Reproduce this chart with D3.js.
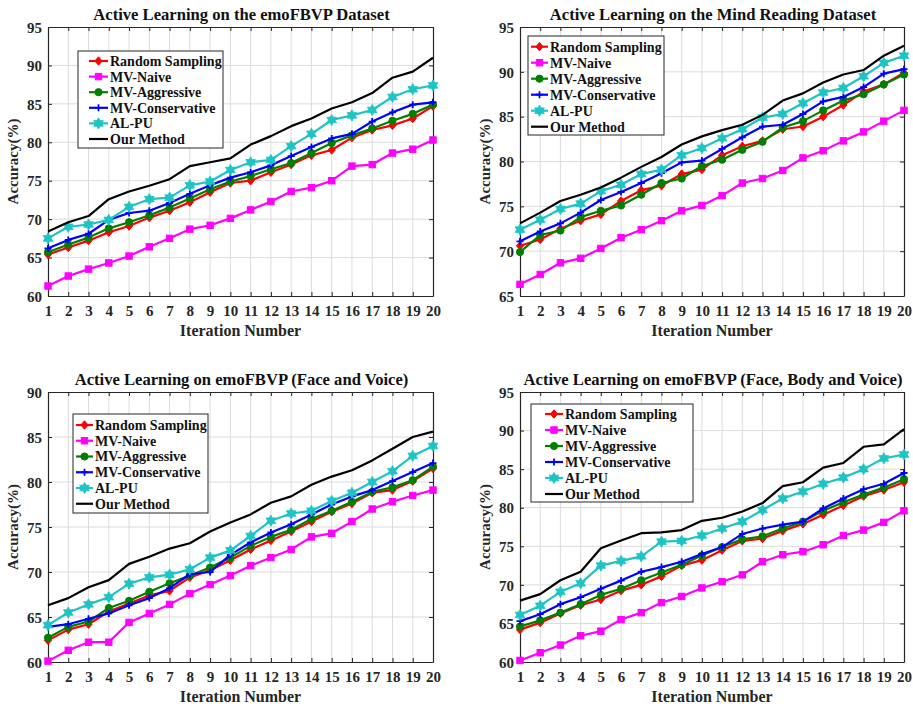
<!DOCTYPE html>
<html>
<head>
<meta charset="utf-8">
<script src="https://cdn.jsdelivr.net/npm/d3@7/dist/d3.min.js"></script>
<style>
  html, body { margin: 0; padding: 0; background: #fff; }
  svg { display: block; font-family: "Liberation Serif", "Times New Roman", serif; font-weight: bold; }
</style>
</head>
<body>
<svg id="chart" width="913" height="704"></svg>
<script>
// Iteration index shared by all four panels
const iterations = d3.range(1, 21);

const seriesNames = ["Random Sampling", "MV-Naive", "MV-Aggressive", "MV-Conservative", "AL-PU", "Our Method"];

// emoFBVP dataset
const fbvpRandom = [65.4, 66.3, 67.2, 68.3, 69.1, 70.2, 71.1, 72.2, 73.5, 74.7, 75.0, 76.1, 77.1, 78.3, 79.0, 80.6, 81.6, 82.2, 83.1, 84.7];
const fbvpNaive = [61.3, 62.6, 63.5, 64.3, 65.2, 66.4, 67.5, 68.7, 69.2, 70.1, 71.2, 72.3, 73.6, 74.1, 75.0, 76.9, 77.1, 78.6, 79.1, 80.3];
const fbvpAggressive = [65.7, 66.7, 67.6, 68.8, 69.6, 70.5, 71.5, 72.7, 73.9, 74.9, 75.6, 76.5, 77.3, 78.6, 79.9, 80.9, 81.8, 82.8, 83.7, 84.9];
const fbvpConservative = [66.2, 67.3, 68.1, 69.9, 70.8, 71.1, 72.1, 73.3, 74.4, 75.4, 76.1, 77.0, 78.2, 79.4, 80.5, 81.1, 82.7, 83.9, 84.9, 85.2];
const fbvpALPU = [67.5, 69.0, 69.3, 69.9, 71.6, 72.6, 72.8, 74.4, 74.9, 76.4, 77.4, 77.7, 79.5, 81.1, 82.9, 83.5, 84.2, 85.9, 86.9, 87.4];
const fbvpOurs = [68.4, 69.6, 70.4, 72.6, 73.6, 74.35, 75.2, 76.9, 77.4, 77.9, 79.7, 80.8, 82.1, 83.1, 84.4, 85.2, 86.4, 88.4, 89.2, 91.0];

// Mind Reading dataset
const mindRandom = [70.6, 71.3, 72.5, 73.4, 74.1, 75.6, 76.8, 77.3, 78.6, 79.1, 80.7, 81.7, 82.3, 83.6, 83.9, 85.0, 86.3, 87.8, 88.6, 89.9];
const mindNaive = [66.3, 67.4, 68.7, 69.2, 70.3, 71.5, 72.4, 73.4, 74.5, 75.1, 76.2, 77.6, 78.1, 79.0, 80.4, 81.2, 82.3, 83.3, 84.5, 85.7];
const mindAggressive = [69.9, 71.8, 72.3, 73.8, 74.5, 75.1, 76.3, 77.6, 78.1, 79.5, 80.2, 81.3, 82.2, 83.8, 84.5, 85.7, 86.8, 87.5, 88.6, 89.7];
const mindConservative = [71.1, 72.2, 73.1, 74.3, 75.7, 76.6, 77.6, 78.7, 79.9, 80.1, 81.4, 82.7, 83.9, 84.1, 85.3, 86.7, 87.2, 88.3, 89.8, 90.3];
const mindALPU = [72.4, 73.5, 74.7, 75.3, 76.7, 77.4, 78.6, 79.1, 80.7, 81.5, 82.6, 83.6, 84.9, 85.3, 86.5, 87.7, 88.2, 89.5, 91.0, 91.8];
const mindOurs = [73.1, 74.3, 75.6, 76.3, 77.1, 78.2, 79.4, 80.5, 81.9, 82.8, 83.5, 84.1, 85.2, 86.8, 87.6, 88.8, 89.7, 90.2, 91.8, 92.9];

// emoFBVP, face and voice
const fvRandom = [62.4, 63.6, 64.2, 65.6, 66.5, 67.4, 67.9, 69.4, 70.2, 71.3, 72.5, 73.5, 74.5, 75.6, 76.7, 77.6, 78.8, 79.1, 80.1, 81.5];
const fvNaive = [60.1, 61.3, 62.2, 62.2, 64.4, 65.4, 66.4, 67.6, 68.6, 69.6, 70.7, 71.6, 72.5, 73.9, 74.3, 75.6, 77.0, 77.8, 78.5, 79.1];
const fvAggressive = [62.7, 63.9, 64.5, 66.0, 66.8, 67.8, 68.75, 69.6, 70.5, 71.6, 72.9, 73.9, 74.7, 75.9, 76.8, 77.8, 78.9, 79.4, 80.2, 81.7];
const fvConservative = [63.9, 64.2, 64.8, 65.4, 66.3, 67.1, 68.2, 69.75, 70.0, 71.9, 73.3, 74.4, 75.3, 76.4, 77.5, 78.4, 79.1, 80.1, 81.1, 82.1];
const fvALPU = [64.1, 65.5, 66.4, 67.2, 68.7, 69.4, 69.7, 70.3, 71.6, 72.4, 74.0, 75.7, 76.5, 76.8, 77.9, 78.8, 80.0, 81.2, 82.9, 84.0];
const fvOurs = [66.3, 67.1, 68.3, 69.1, 70.9, 71.7, 72.6, 73.2, 74.5, 75.5, 76.4, 77.7, 78.4, 79.7, 80.6, 81.3, 82.4, 83.7, 85.0, 85.6];

// emoFBVP, face, body and voice
const fbvRandom = [64.2, 65.1, 66.3, 67.35, 68.1, 69.25, 70.0, 71.1, 72.5, 73.2, 74.5, 75.7, 76.0, 77.0, 77.9, 79.1, 80.3, 81.5, 82.3, 83.3];
const fbvNaive = [60.2, 61.2, 62.2, 63.4, 64.0, 65.5, 66.4, 67.7, 68.5, 69.6, 70.4, 71.3, 73.0, 73.9, 74.3, 75.2, 76.4, 77.1, 78.1, 79.6];
const fbvAggressive = [64.6, 65.4, 66.4, 67.5, 68.7, 69.5, 70.6, 71.6, 72.6, 73.8, 74.9, 75.9, 76.3, 77.3, 78.2, 79.6, 80.7, 81.7, 82.6, 83.7];
const fbvConservative = [65.3, 66.2, 67.5, 68.4, 69.5, 70.55, 71.7, 72.3, 73.0, 74.0, 74.9, 76.6, 77.3, 77.8, 78.2, 79.9, 81.2, 82.4, 83.1, 84.5];
const fbvALPU = [66.1, 67.3, 69.1, 70.2, 72.5, 73.1, 73.7, 75.6, 75.7, 76.4, 77.3, 78.2, 79.7, 81.2, 82.1, 83.1, 83.9, 85.0, 86.4, 86.9];
const fbvOurs = [67.95, 68.8, 70.6, 71.7, 74.75, 75.75, 76.7, 76.8, 77.1, 78.3, 78.7, 79.5, 80.6, 82.8, 83.3, 85.2, 85.8, 87.9, 88.2, 90.2];

// Y tick labels per panel
const yTicksFbvp = [60, 65, 70, 75, 80, 85, 90, 95];
const yTicksMind = [65, 70, 75, 80, 85, 90, 95];
const yTicksFv = [60, 65, 70, 75, 80, 85, 90];
const yTicksFbv = [60, 65, 70, 75, 80, 85, 90, 95];

// Line style per series: colour and marker
const styles = [
  { color: "#ff0000", marker: "diamond" },
  { color: "#ff00ff", marker: "square" },
  { color: "#008000", marker: "circle" },
  { color: "#0000ff", marker: "plus" },
  { color: "#1ec4c4", marker: "hexagram" },
  { color: "#000000", marker: null }
];

const panels = [
  { title: "Active Learning on the emoFBVP Dataset", x0: 48, x1: 433, y0: 27, y1: 296,
    yTicks: yTicksFbvp, series: [fbvpRandom, fbvpNaive, fbvpAggressive, fbvpConservative, fbvpALPU, fbvpOurs],
    legend: { x: 78, y: 51, w: 145, h: 97, lineX0: 11, lineX1: 30, textX: 32, rowY0: 10, rowStep: 15.6 } },
  { title: "Active Learning on the Mind Reading Dataset", x0: 520, x1: 904, y0: 27, y1: 296,
    yTicks: yTicksMind, series: [mindRandom, mindNaive, mindAggressive, mindConservative, mindALPU, mindOurs],
    legend: { x: 528, y: 36, w: 136, h: 99, lineX0: 3, lineX1: 20, textX: 22, rowY0: 10.7, rowStep: 16 } },
  { title: "Active Learning on emoFBVP (Face and Voice)", x0: 48, x1: 433, y0: 392, y1: 662,
    yTicks: yTicksFv, series: [fvRandom, fvNaive, fvAggressive, fvConservative, fvALPU, fvOurs],
    legend: { x: 73, y: 414, w: 135, h: 99, lineX0: 3, lineX1: 20, textX: 22, rowY0: 11, rowStep: 15.75 } },
  { title: "Active Learning on emoFBVP (Face, Body and Voice)", x0: 520, x1: 904, y0: 392, y1: 662,
    yTicks: yTicksFbv, series: [fbvRandom, fbvNaive, fbvAggressive, fbvConservative, fbvALPU, fbvOurs],
    legend: { x: 531, y: 404, w: 162, h: 98, lineX0: 14, lineX1: 32, textX: 34, rowY0: 10, rowStep: 16 } }
];

const ink = "#262626";
const svg = d3.select("#chart");

// Six-pointed star outline
function hexagramPath(r) {
  const pts = [];
  for (let k = 0; k < 12; k++) {
    const a = (-90 + 30 * k) * Math.PI / 180;
    const rr = k % 2 === 0 ? r : r / Math.sqrt(3);
    pts.push([rr * Math.cos(a), rr * Math.sin(a)]);
  }
  return "M" + pts.map(p => p[0].toFixed(2) + "," + p[1].toFixed(2)).join("L") + "Z";
}

function drawMarker(g, type, color, cx, cy) {
  const t = `translate(${cx},${cy})`;
  if (type === "diamond") {
    g.append("path").attr("d", "M0,-4.2L3.6,0L0,4.2L-3.6,0Z").attr("transform", t)
      .attr("fill", color).attr("stroke", color).attr("stroke-width", 1);
  } else if (type === "square") {
    g.append("rect").attr("x", cx - 3.2).attr("y", cy - 3.2).attr("width", 6.4).attr("height", 6.4)
      .attr("fill", color).attr("stroke", color).attr("stroke-width", 1);
  } else if (type === "circle") {
    g.append("circle").attr("cx", cx).attr("cy", cy).attr("r", 3.6)
      .attr("fill", color).attr("stroke", color).attr("stroke-width", 1);
  } else if (type === "plus") {
    g.append("path").attr("d", "M-3.5,0H3.5M0,-3.5V3.5").attr("transform", t)
      .attr("fill", "none").attr("stroke", color).attr("stroke-width", 1.8);
  } else if (type === "hexagram") {
    g.append("path").attr("d", hexagramPath(5.6)).attr("transform", t)
      .attr("fill", color).attr("stroke", color).attr("stroke-width", 0.8);
  }
}

panels.forEach(p => {
  const yDomain = [d3.min(p.yTicks), d3.max(p.yTicks)];
  const x = d3.scaleLinear().domain([1, 20]).range([p.x0, p.x1]);
  const y = d3.scaleLinear().domain(yDomain).range([p.y1, p.y0]);
  const g = svg.append("g");

  // grid
  const grid = g.append("g");
  grid.selectAll("line.gx").data(iterations.slice(1, -1)).join("line")
    .attr("x1", d => x(d)).attr("x2", d => x(d)).attr("y1", p.y0).attr("y2", p.y1)
    .attr("stroke", "#dcdcdc").attr("stroke-width", 1);
  grid.selectAll("line.gy").data(p.yTicks.slice(1, -1)).join("line")
    .attr("y1", d => y(d)).attr("y2", d => y(d)).attr("x1", p.x0).attr("x2", p.x1)
    .attr("stroke", "#dcdcdc").attr("stroke-width", 1);

  // axes with inward ticks on all four sides
  const axB = g.append("g").attr("transform", `translate(0,${p.y1})`)
    .call(d3.axisBottom(x).tickValues(iterations).tickFormat(d3.format("d")).tickSizeInner(-4).tickSizeOuter(0).tickPadding(9));
  const axT = g.append("g").attr("transform", `translate(0,${p.y0})`)
    .call(d3.axisTop(x).tickValues(iterations).tickFormat("").tickSizeInner(-4).tickSizeOuter(0));
  const axL = g.append("g").attr("transform", `translate(${p.x0},0)`)
    .call(d3.axisLeft(y).tickValues(p.yTicks).tickFormat(d3.format("d")).tickSizeInner(-4).tickSizeOuter(0).tickPadding(6));
  const axR = g.append("g").attr("transform", `translate(${p.x1},0)`)
    .call(d3.axisRight(y).tickValues(p.yTicks).tickFormat("").tickSizeInner(-4).tickSizeOuter(0));
  [axB, axT, axL, axR].forEach(a => {
    a.select(".domain").attr("stroke", ink).attr("stroke-width", 1.2);
    a.selectAll(".tick line").attr("stroke", ink).attr("stroke-width", 1);
    a.selectAll(".tick text").attr("fill", ink)
      .style("font-family", "Liberation Serif, serif").style("font-weight", "bold").style("font-size", "15px");
  });
  axL.selectAll(".tick text").attr("dy", "0.35em");
  axB.selectAll(".tick text").attr("dy", "0.72em");

  // series
  const line = d3.line().x((d, i) => x(iterations[i])).y(d => y(d));
  p.series.forEach((vals, si) => {
    const st = styles[si];
    const sg = g.append("g");
    sg.append("path").datum(vals).attr("d", line)
      .attr("fill", "none").attr("stroke", st.color).attr("stroke-width", 2.2).attr("stroke-linejoin", "round");
    if (st.marker) vals.forEach((v, i) => drawMarker(sg, st.marker, st.color, x(iterations[i]), y(v)));
  });

  // title
  g.append("text").attr("x", (p.x0 + p.x1) / 2 + 1).attr("y", p.y0 - 7).attr("text-anchor", "middle")
    .attr("fill", "#111").style("font-size", "16.6px").text(p.title);

  // axis labels
  g.append("text").attr("x", (p.x0 + p.x1) / 2).attr("y", p.y1 + 40).attr("text-anchor", "middle")
    .attr("fill", ink).style("font-size", "16px").text("Iteration Number");
  g.append("text").attr("transform", `translate(${p.x0 - 30},${(p.y0 + p.y1) / 2}) rotate(-90)`)
    .attr("text-anchor", "middle").attr("fill", ink).style("font-size", "15px").text("Accuracy(%)");

  // legend
  const L = p.legend;
  const lg = g.append("g").attr("transform", `translate(${L.x},${L.y})`);
  lg.append("rect").attr("width", L.w).attr("height", L.h)
    .attr("fill", "#fff").attr("stroke", ink).attr("stroke-width", 1);
  seriesNames.forEach((name, si) => {
    const st = styles[si];
    const ry = L.rowY0 + si * L.rowStep;
    lg.append("line").attr("x1", L.lineX0).attr("x2", L.lineX1).attr("y1", ry).attr("y2", ry)
      .attr("stroke", st.color).attr("stroke-width", 2.2);
    if (st.marker) drawMarker(lg, st.marker, st.color, (L.lineX0 + L.lineX1) / 2, ry);
    lg.append("text").attr("x", L.textX).attr("y", ry).attr("dy", "0.35em")
      .attr("fill", "#111").style("font-size", "14px").text(name);
  });
});
</script>
</body>
</html>
